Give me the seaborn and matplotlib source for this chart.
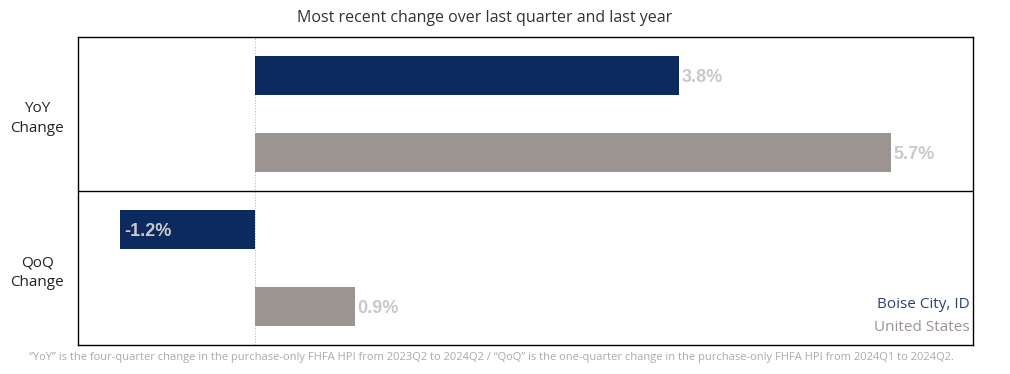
import matplotlib
matplotlib.use("Agg")
import matplotlib.pyplot as plt
import seaborn as sns
import pandas as pd

metrics = ["YoY\nChange", "YoY\nChange", "QoQ\nChange", "QoQ\nChange"]
regions = ["Boise City, ID", "United States", "Boise City, ID", "United States"]
values = [3.8, 5.7, -1.2, 0.9]
labels = ["3.8%", "5.7%", "-1.2%", "0.9%"]
title = "Most recent change over last quarter and last year"
footnote = ("\u201cYoY\u201d is the four-quarter change in the purchase-only FHFA HPI from 2023Q2 to 2024Q2 / "
            "\u201cQoQ\u201d is the one-quarter change in the purchase-only FHFA HPI from 2024Q1 to 2024Q2.")

NAVY = "#0C2A5E"
GRAY = "#9C9491"
LABEL = "#C9C9C9"

sns.set_theme(style="white")
plt.rcParams["font.family"] = ["Open Sans", "DejaVu Sans"]

df = pd.DataFrame({"metric": metrics, "region": regions, "value": values})
df["row"] = [f"{m}|{r}" for m, r in zip(metrics, regions)]

fig = plt.figure(figsize=(10.10, 3.74), dpi=100)
ax = fig.add_axes([0.0772, 0.0775, 0.9634 - 0.0772, 0.9011 - 0.0775])

sns.barplot(data=df, x="value", y="row", hue="region", order=list(df["row"]),
            palette={"Boise City, ID": NAVY, "United States": GRAY},
            width=0.5, dodge=False, legend=False, ax=ax, saturation=1, linewidth=0)

ax.set_xlim(-1.58, 6.43)
ax.set_ylim(3.5, -0.5)
ax.axvline(0, color="#BBBBBB", lw=0.8, ls=(0, (1, 1.5)), zorder=0)
ax.axhline(1.5, color="black", lw=1)

for i, (v, lab) in enumerate(zip(values, labels)):
    x = v + 0.02 if v >= 0 else v + 0.03
    ax.text(x, i + 0.02, lab, ha="left", va="center", color=LABEL,
            fontsize=13, fontweight="bold", family=["Liberation Sans", "DejaVu Sans"])

ax.set_yticks([0.5, 2.5])
ax.set_yticklabels(["YoY\nChange", "QoQ\nChange"], fontsize=11, color="#222222",
                   linespacing=1.45, multialignment="center")
ax.tick_params(axis="y", length=0, pad=10)
ax.set_xticks([])
ax.set_xlabel("")
ax.set_ylabel("")
for s in ax.spines.values():
    s.set_visible(True)
    s.set_color("black")
    s.set_linewidth(1)

fig.text(0.48, 0.953, title, ha="center", va="center", fontsize=11.5, color="#333333")
ax.text(0.996, 0.13, "Boise City, ID", transform=ax.transAxes, ha="right", va="center",
        fontsize=11, color="#2B4275")
ax.text(0.996, 0.058, "United States", transform=ax.transAxes, ha="right", va="center",
        fontsize=11, color="#9C9491")
fig.text(0.487, 0.045, footnote, ha="center", va="center", fontsize=8, color="#AAAAAA")

fig.savefig("out.png", dpi=100)
